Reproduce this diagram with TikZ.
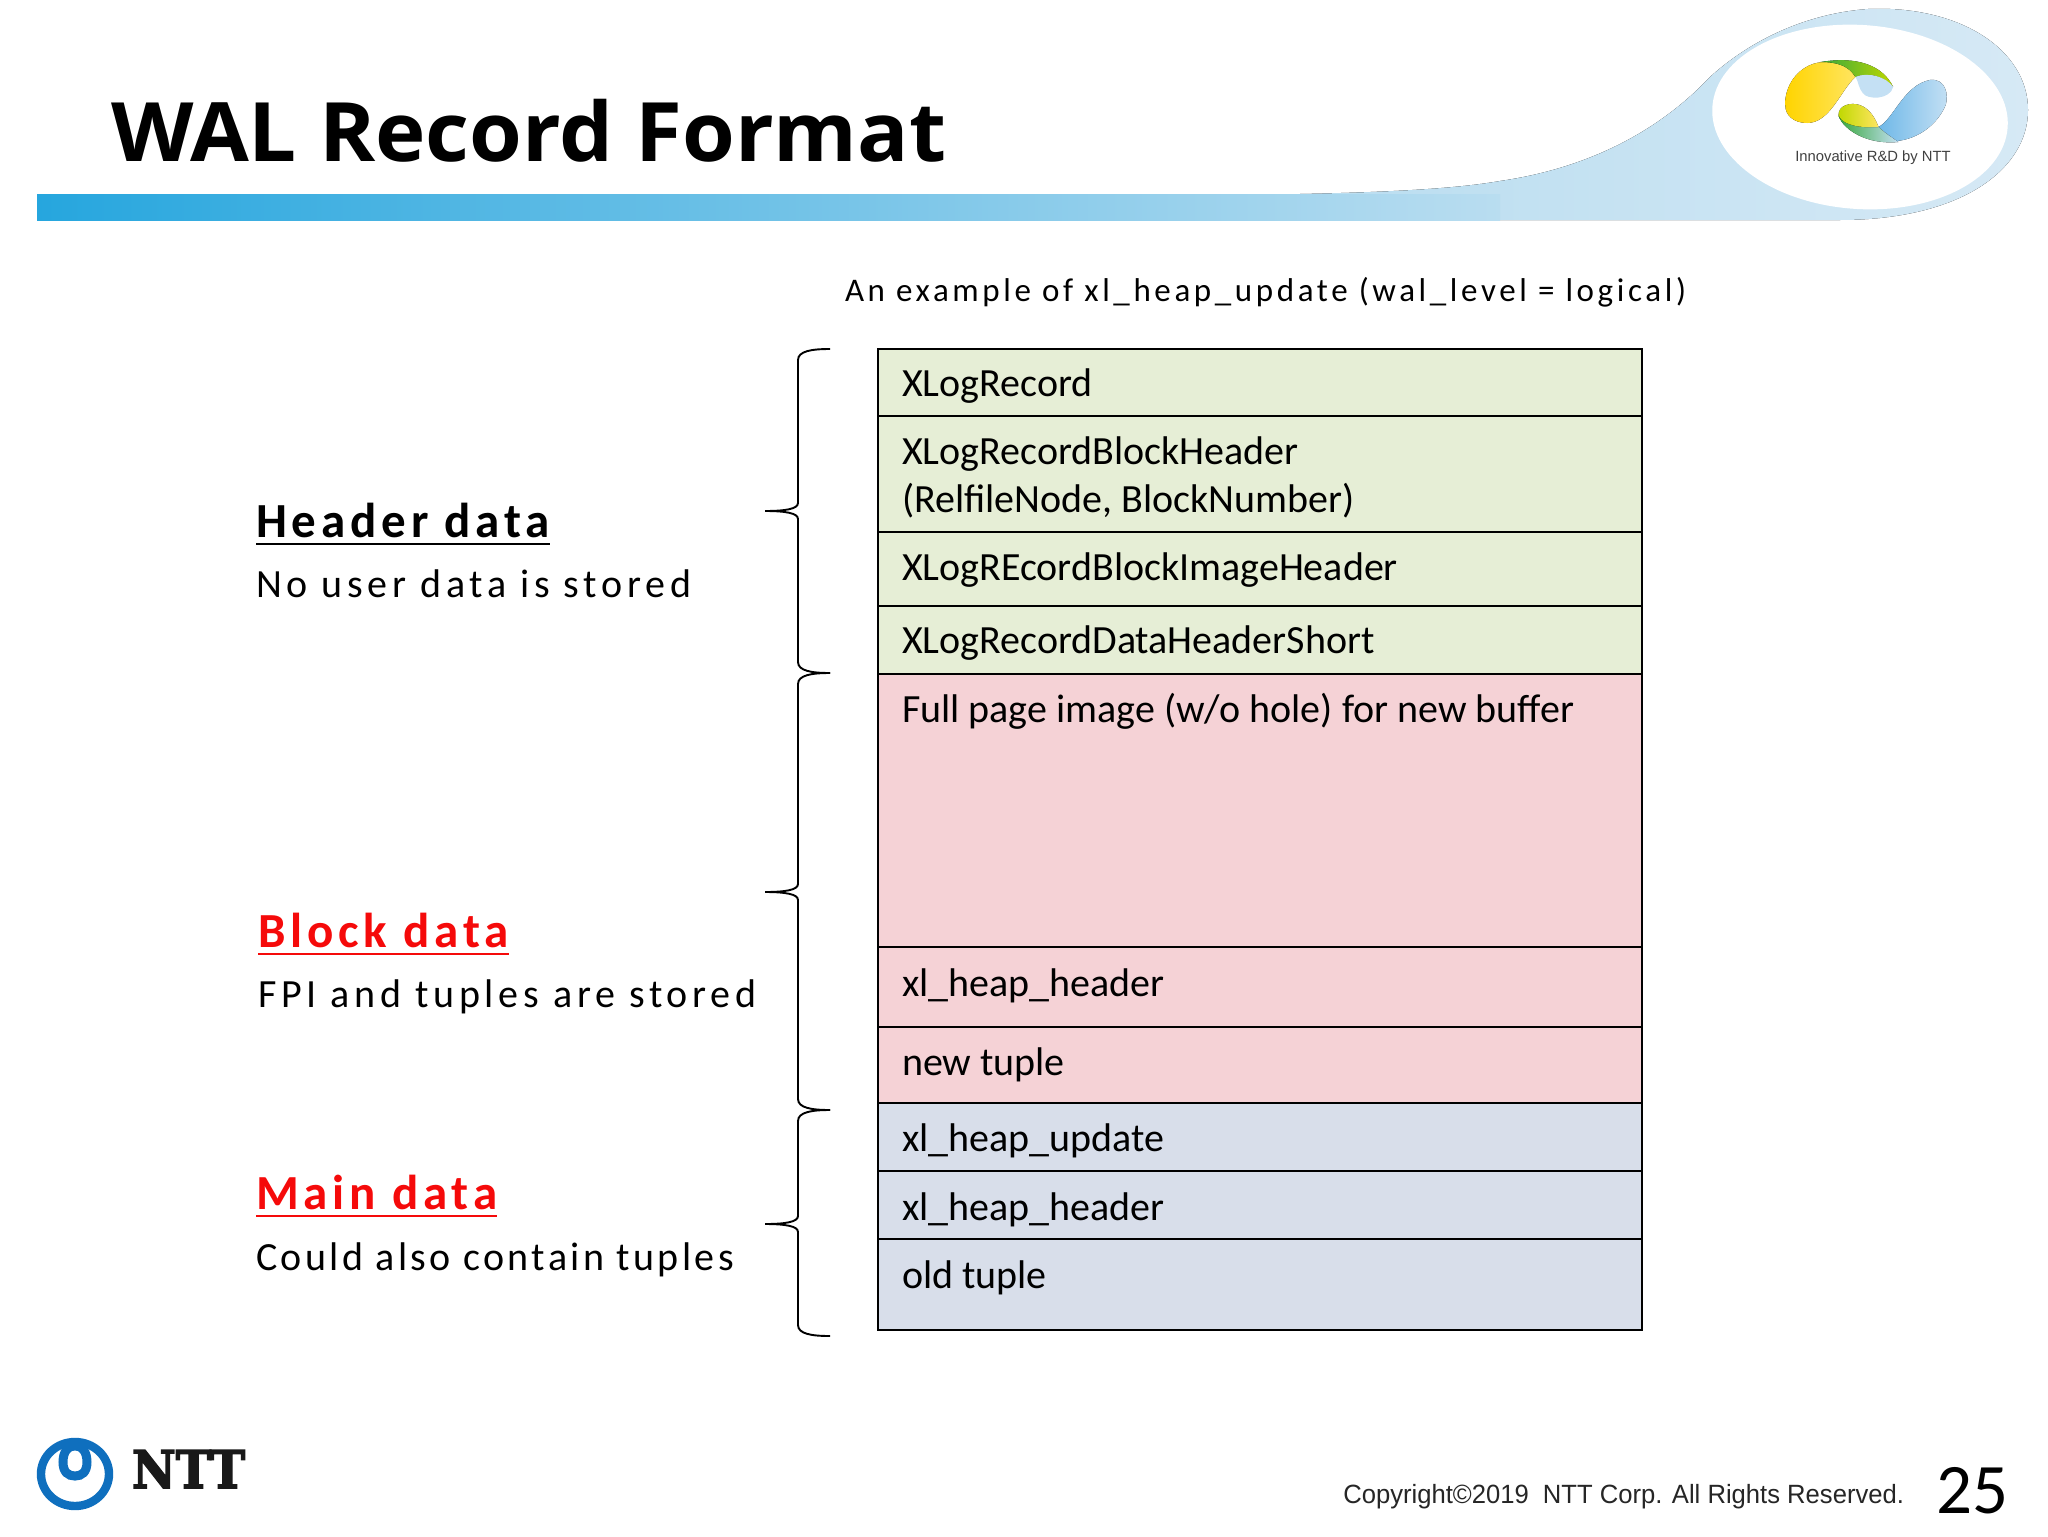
\documentclass[tikz,border=0pt]{standalone}
\usepackage{fontspec}
\setmainfont{Carlito}
\newfontfamily\headfont{Open Sans}
\newfontfamily\spacedfont[LetterSpace=12]{Carlito}
\newfontfamily\boldspaced[LetterSpace=10]{Carlito}
\newfontfamily\exfont[LetterSpace=11]{Carlito}
\newfontfamily\arialfont{Liberation Sans}
\newfontfamily\slabfont[FakeBold=3]{DejaVu Serif}
\usetikzlibrary{positioning}
\definecolor{hdrgreen}{HTML}{E6EED6}
\definecolor{blkred}{HTML}{F5D2D6}
\definecolor{mainblue}{HTML}{D8DEEA}
\definecolor{swoosh}{HTML}{B9DDF0}
\definecolor{barblue}{HTML}{26A6DE}
\definecolor{ringblue}{HTML}{D6E9F5}
\definecolor{nttblue}{HTML}{0F6FBE}
\definecolor{alertred}{HTML}{F50A0A}
\definecolor{markyellow}{HTML}{FFD400}
\definecolor{markpale}{HTML}{FFE560}
\definecolor{markgreen}{HTML}{38A83C}
\definecolor{marklime}{HTML}{BFD800}
\definecolor{markblue}{HTML}{6FB8E8}
\definecolor{markpaleblue}{HTML}{C4E0F4}
% one brace: top y, tip y, bottom y
\newcommand{\recbrace}[3]{
  \draw[bracepath] (830,#1) .. controls (812,#1) and (798,#1+2) .. (798,#1+11)
    -- (798,#2-8) .. controls (798,#2-2) and (785,#2) .. (765,#2)
    .. controls (785,#2) and (798,#2+2) .. (798,#2+8)
    -- (798,#3-11) .. controls (798,#3-2) and (812,#3) .. (830,#3);
}
\begin{document}
\begin{tikzpicture}[x=0.5pt,y=-0.5pt,
      every node/.append style={inner sep=0pt,outer sep=0pt},
      cell/.style={draw=black,line width=1.3pt,minimum width=382pt,anchor=north west},
      celltext/.style={anchor=base west,font=\fontsize{20}{24}\selectfont},
      bracepath/.style={line width=0.95pt,black},
      grouphead/.style={anchor=base west,font=\fontsize{24.5}{29}\boldspaced\bfseries},
      groupnote/.style={anchor=base west,font=\fontsize{20}{24}\spacedfont},
      headline/.style={line width=1.2pt}]
    \useasboundingbox (0,0) rectangle (2048,1536);
    \fill[white] (0,0) rectangle (2048,1536);

    % banner
    \fill[left color=swoosh,middle color=swoosh,right color=ringblue] (1300,194) .. controls (1400,192) and (1460,188) .. (1500,181)
      .. controls (1590,168) and (1660,130) .. (1710,77)
      .. controls (1745,45) and (1800,14) .. (1868,9)
      .. controls (1960,5) and (2028,50) .. (2028,110)
      .. controls (2028,170) and (1960,220) .. (1840,220)
      -- (1300,220) -- cycle;
    \fill[left color=barblue,right color=swoosh] (37,194) rectangle (1500,220);
    \fill[white,rotate around={-4:(1860,117)}] (1860,117) ellipse [x radius=148,y radius=92];

    % swirl mark
    \begin{scope}[xshift=-37.8pt,xscale=1.05]
    \fill[left color=markyellow,right color=markpale] (1772,105) .. controls (1772,80) and (1790,62) .. (1810,62)
      .. controls (1825,62) and (1834,68) .. (1839,77)
      .. controls (1825,90) and (1815,123) .. (1793,123)
      .. controls (1780,123) and (1772,115) .. cycle;
    \fill[left color=markgreen,right color=marklime] (1806,62) .. controls (1840,56) and (1865,65) .. (1875,87)
      .. controls (1865,75) and (1850,72) .. (1839,77)
      .. controls (1834,68) and (1825,62) .. cycle;
    \fill[markpaleblue] (1839,77) .. controls (1850,72) and (1868,76) .. (1875,87)
      .. controls (1872,100) and (1850,100) .. (1846,93) .. controls (1842,88) and (1842,82) .. cycle;
    \fill[left color=markblue,right color=markpaleblue] (1861,127) .. controls (1875,120) and (1885,85) .. (1910,80)
      .. controls (1925,78) and (1928,95) .. (1925,105)
      .. controls (1915,130) and (1890,143) .. (1870,141)
      .. controls (1866,136) and (1863,132) .. cycle;
    \fill[left color=markgreen,right color=markpaleblue] (1823,116) .. controls (1828,130) and (1850,145) .. (1880,142)
      .. controls (1870,135) and (1864,130) .. (1861,127)
      .. controls (1845,128) and (1830,125) .. cycle;
    \fill[left color=marklime,right color=markpale] (1823,116) .. controls (1822,105) and (1835,102) .. (1843,105)
      .. controls (1852,108) and (1858,118) .. (1861,127)
      .. controls (1845,128) and (1828,126) .. cycle;
    \end{scope}
    \node (rdname) [anchor=base,font=\fontsize{7.4}{9}\arialfont,text=black!75] at (1873,162) {Innovative R\&D by NTT};

    \node (title) [anchor=base west,xscale=1.04,font=\fontsize{41}{50}\headfont\bfseries] at (111,162) {WAL Record Format};
    \node (example) [anchor=base west,font=\fontsize{16.5}{20}\exfont] at (845,301) {An example of xl\_heap\_update (wal\_level = logical)};

    % the record
    \node (xlogrec) [cell,fill=hdrgreen,minimum height=33.5pt] at (878,349) {};
    \node (blockhdr) [cell,fill=hdrgreen,minimum height=58pt,below=0pt of xlogrec] {};
    \node (imagehdr) [cell,fill=hdrgreen,minimum height=37pt,below=0pt of blockhdr] {};
    \node (datahdr) [cell,fill=hdrgreen,minimum height=34pt,below=0pt of imagehdr] {};
    \node (fullpage) [cell,fill=blkred,minimum height=136.5pt,below=0pt of datahdr] {};
    \node (heaphdr) [cell,fill=blkred,minimum height=40pt,below=0pt of fullpage] {};
    \node (newtuple) [cell,fill=blkred,minimum height=38pt,below=0pt of heaphdr] {};
    \node (heapupd) [cell,fill=mainblue,minimum height=34pt,below=0pt of newtuple] {};
    \node (mainhdr) [cell,fill=mainblue,minimum height=34pt,below=0pt of heapupd] {};
    \node (oldtuple) [cell,fill=mainblue,minimum height=45.5pt,below=0pt of mainhdr] {};

    \node (t1) [celltext] at (902,396) {XLogRecord};
    \node (t2) [celltext] at (902,464) {XLogRecordBlockHeader};
    \node (t3) [celltext] at (902,512) {(RelfileNode, BlockNumber)};
    \node (t4) [celltext] at (902,580) {XLogREcordBlockImageHeader};
    \node (t5) [celltext] at (902,653) {XLogRecordDataHeaderShort};
    \node (t6) [celltext] at (902,722) {Full page image (w/o hole) for new buffer};
    \node (t7) [celltext] at (902,996) {xl\_heap\_header};
    \node (t8) [celltext] at (902,1075) {new tuple};
    \node (t9) [celltext] at (902,1151) {xl\_heap\_update};
    \node (t10) [celltext] at (902,1220) {xl\_heap\_header};
    \node (t11) [celltext] at (902,1288) {old tuple};

    \recbrace{349}{511}{673}
    \recbrace{673}{892}{1110}
    \recbrace{1110}{1224}{1336}

    % groups
    \node (hdrhead) [grouphead] at (256,537) {Header data};
    \draw[headline] ([yshift=-3.5pt]hdrhead.base west) -- ([yshift=-3.5pt]hdrhead.base east);
    \node (hdrnote) [groupnote] at (256,597) {No user data is stored};
    \node (blkhead) [grouphead,text=alertred] at (258,947) {Block data};
    \draw[headline,alertred] ([yshift=-3.5pt]blkhead.base west) -- ([yshift=-3.5pt]blkhead.base east);
    \node (blknote) [groupnote] at (258,1007) {FPI and tuples are stored};
    \node (mainhead) [grouphead,text=alertred] at (256,1209) {Main data};
    \draw[headline,alertred] ([yshift=-3.5pt]mainhead.base west) -- ([yshift=-3.5pt]mainhead.base east);
    \node (mainnote) [groupnote] at (256,1270) {\addfontfeature{LetterSpace=8.5}Could also contain tuples};

    % footer
    \draw[nttblue,line width=4.2pt] (75,1474) ellipse [x radius=34,y radius=32];
    \draw[nttblue,line width=4.5pt,fill=white] (75,1446) .. controls (64,1446) and (63,1458) .. (63,1462)
      .. controls (63,1472) and (68,1476) .. (75,1476) .. controls (82,1476) and (87,1472) .. (87,1462)
      .. controls (87,1458) and (86,1446) .. (75,1446) -- cycle;
    \node (nttname) [anchor=base west,xscale=0.92,font=\fontsize{26}{30}\slabfont\bfseries,text=black!90] at (132,1488) {NTT};
    \node (copyright) [anchor=base east,xscale=0.97,font=\fontsize{13.2}{16}\arialfont,text=black!85] at (1904,1503) {Copyright©2019\ \ NTT Corp. All Rights Reserved.};
    \node (pageno) [anchor=base east,font=\fontsize{35.5}{42}\selectfont] at (2008,1513) {25};
  \end{tikzpicture}
\end{document}
